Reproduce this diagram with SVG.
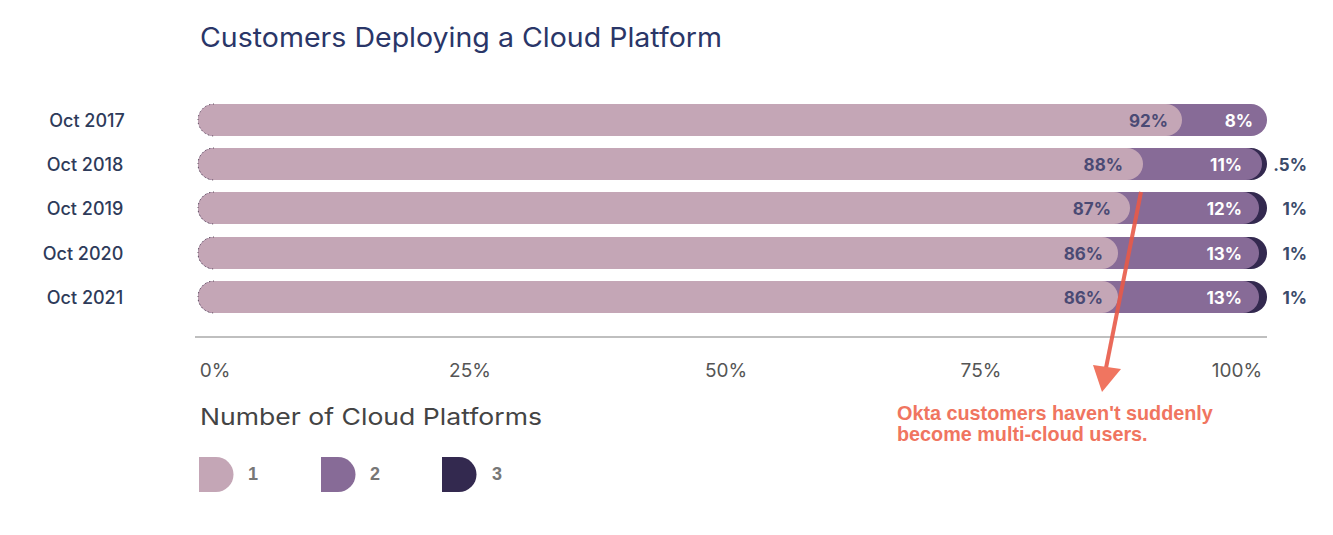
<svg xmlns="http://www.w3.org/2000/svg" width="1333" height="535" viewBox="0 0 1333 535">
<style>
.l1{fill:#c4a6b6}
.l2{fill:#876b97}
.l3{fill:#33294f}
.edge{fill:none;stroke:#4a3a4a;stroke-width:1;stroke-dasharray:1 3}
.yr{font-family:Inter,"Liberation Sans",sans-serif;font-size:18px;font-weight:500;fill:#2e3b5a;text-anchor:middle}
.in1{font-family:Inter,"Liberation Sans",sans-serif;font-size:17px;font-weight:700;fill:#4a4a74;text-anchor:end}
.in2{font-family:Inter,"Liberation Sans",sans-serif;font-size:17px;font-weight:700;fill:#ffffff;text-anchor:end}
.out{font-family:Inter,"Liberation Sans",sans-serif;font-size:17px;font-weight:700;fill:#3a4a6a;text-anchor:end}
.tick{font-family:Inter,"Liberation Sans",sans-serif;font-size:19px;fill:#555555;text-anchor:middle}
.leg{font-family:"Liberation Sans",sans-serif;font-size:18px;font-weight:700;fill:#777777}
.note{font-family:"Liberation Sans",sans-serif;font-size:19.8px;font-weight:700;fill:#f07560}
</style>
<rect width="1333" height="535" fill="#ffffff"/>
<text x="200" y="47" font-family="Inter,'Liberation Sans',sans-serif" font-size="27" fill="#2a3668" textLength="522" lengthAdjust="spacingAndGlyphs">Customers Deploying a Cloud Platform</text>

<g id="row-2017">
<text class="yr" x="87" y="127">Oct 2017</text>
<rect class="l2" x="198" y="104" width="1069" height="32" rx="16"/>
<rect class="l1" x="198" y="104" width="984" height="32" rx="16"/>
<path class="edge" d="M214,104 A16,16 0 0 0 214,136"/>
<text class="in1" x="1168" y="126.5">92%</text>
<text class="in2" x="1253" y="126.5">8%</text>
</g>
<g id="row-2018">
<text class="yr" x="85" y="171">Oct 2018</text>
<rect class="l3" x="198" y="148" width="1069" height="32" rx="16"/>
<rect class="l2" x="198" y="148" width="1064" height="32" rx="16"/>
<rect class="l1" x="198" y="148" width="945" height="32" rx="16"/>
<path class="edge" d="M214,148 A16,16 0 0 0 214,180"/>
<text class="in1" x="1123" y="170.5">88%</text>
<text class="in2" x="1242" y="170.5">11%</text>
<text class="out" x="1307" y="170.5">.5%</text>
</g>
<g id="row-2019">
<text class="yr" x="85" y="215">Oct 2019</text>
<rect class="l3" x="198" y="192" width="1069" height="32" rx="16"/>
<rect class="l2" x="198" y="192" width="1061" height="32" rx="16"/>
<rect class="l1" x="198" y="192" width="932" height="32" rx="16"/>
<path class="edge" d="M214,192 A16,16 0 0 0 214,224"/>
<text class="in1" x="1111" y="214.5">87%</text>
<text class="in2" x="1242" y="214.5">12%</text>
<text class="out" x="1307" y="214.5">1%</text>
</g>
<g id="row-2020">
<text class="yr" x="83" y="260">Oct 2020</text>
<rect class="l3" x="198" y="237" width="1069" height="32" rx="16"/>
<rect class="l2" x="198" y="237" width="1061" height="32" rx="16"/>
<rect class="l1" x="198" y="237" width="920" height="32" rx="16"/>
<path class="edge" d="M214,237 A16,16 0 0 0 214,269"/>
<text class="in1" x="1103" y="259.5">86%</text>
<text class="in2" x="1242" y="259.5">13%</text>
<text class="out" x="1307" y="259.5">1%</text>
</g>
<g id="row-2021">
<text class="yr" x="85" y="304">Oct 2021</text>
<rect class="l3" x="198" y="281" width="1069" height="32" rx="16"/>
<rect class="l2" x="198" y="281" width="1061" height="32" rx="16"/>
<rect class="l1" x="198" y="281" width="920" height="32" rx="16"/>
<path class="edge" d="M214,281 A16,16 0 0 0 214,313"/>
<text class="in1" x="1103" y="303.5">86%</text>
<text class="in2" x="1242" y="303.5">13%</text>
<text class="out" x="1307" y="303.5">1%</text>
</g>

<g id="axis">
<line x1="195" y1="337" x2="1267" y2="337" stroke="#aaaaaa" stroke-width="1.5"/>
<text class="tick" x="215" y="377">0%</text>
<text class="tick" x="470" y="377">25%</text>
<text class="tick" x="726" y="377">50%</text>
<text class="tick" x="981" y="377">75%</text>
<text class="tick" x="1237" y="377">100%</text>
</g>

<g id="legend">
<text x="200" y="425" font-family="Inter,'Liberation Sans',sans-serif" font-size="23" fill="#444444" textLength="342" lengthAdjust="spacingAndGlyphs">Number of Cloud Platforms</text>
<path class="l1" d="M199,457 H216 A17.5,17.5 0 0 1 216,492 H199 Z"/>
<text class="leg" x="248" y="480">1</text>
<path class="l2" d="M321,457 H338 A17.5,17.5 0 0 1 338,492 H321 Z"/>
<text class="leg" x="370" y="480">2</text>
<path class="l3" d="M442,457 H459 A17.5,17.5 0 0 1 459,492 H442 Z"/>
<text class="leg" x="492" y="480">3</text>
</g>

<g id="connectors">
<line x1="1141" y1="192" x2="1106" y2="368" stroke="#e85a48" stroke-width="4" stroke-opacity="0.9"/>
<polygon points="1093,365 1121,369 1102,392" fill="#f07560"/>
</g>

<g id="annotation">
<text class="note" x="897" y="420">Okta customers haven't suddenly</text>
<text class="note" x="897" y="441">become multi-cloud users.</text>
</g>
</svg>
